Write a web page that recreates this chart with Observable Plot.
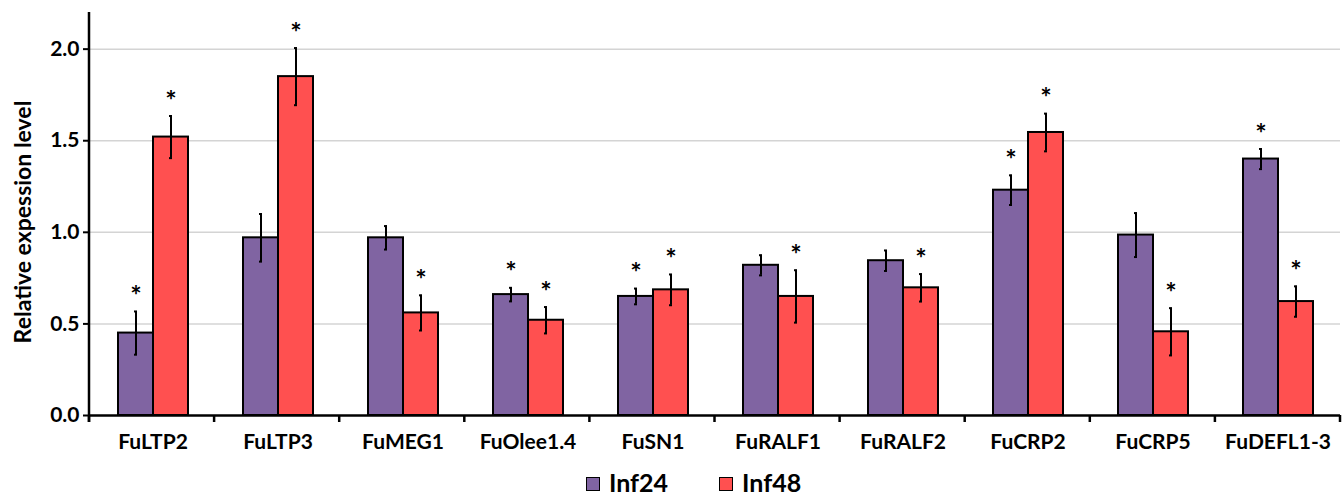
<!DOCTYPE html>
<html><head><meta charset="utf-8">
<script src="https://cdn.jsdelivr.net/npm/d3@7"></script>
<script src="https://cdn.jsdelivr.net/npm/@observablehq/plot@0.6"></script>
<style>
body{margin:0;background:#fff;font-family:Lato,"Open Sans",sans-serif;}
#wrap{position:relative;width:1344px;height:497px;}
#legend{position:absolute;left:586px;top:468px;display:flex;align-items:center;font-weight:bold;font-size:25px;line-height:28px;height:28px;color:#000;}
.sw{display:inline-block;width:12px;height:12px;border:1.5px solid #000;margin-right:9px;margin-top:3px;}
.item{display:flex;align-items:center;margin-right:51px;}
</style></head><body>
<div id="wrap"><div id="chart"></div><div id="legend"></div></div>
<script>
const genes = ["FuLTP2","FuLTP3","FuMEG1","FuOlee1.4","FuSN1","FuRALF1","FuRALF2","FuCRP2","FuCRP5","FuDEFL1-3"];
const series = ["Inf24","Inf48"];
const colors = ["#8064A2","#FF5050"];
const inf24Mean = [0.45,0.97,0.97,0.66,0.65,0.82,0.845,1.23,0.985,1.40];
const inf24Err  = [0.118,0.13,0.064,0.037,0.043,0.055,0.056,0.081,0.12,0.055];
const inf24Sig  = [true,false,false,true,true,false,false,true,false,true];
const inf48Mean = [1.52,1.85,0.56,0.52,0.686,0.65,0.697,1.545,0.457,0.622];
const inf48Err  = [0.115,0.156,0.096,0.072,0.084,0.143,0.075,0.103,0.129,0.083];
const inf48Sig  = [true,true,true,true,true,true,true,true,true,true];
const yTicks = [0,0.5,1.0,1.5,2.0];
const yLabel = "Relative expession level";

const data = [];
genes.forEach((g,i)=>{
  data.push({gene:g, series:series[0], mean:inf24Mean[i], err:inf24Err[i], sig:inf24Sig[i]});
  data.push({gene:g, series:series[1], mean:inf48Mean[i], err:inf48Err[i], sig:inf48Sig[i]});
});
const lo = d=>d.mean-d.err, hi = d=>d.mean+d.err;

const chart = Plot.plot({
  width:1344, height:455,
  marginLeft:89, marginRight:4, marginTop:12, marginBottom:40,
  style:{fontFamily:"Lato, 'Open Sans', sans-serif", fontWeight:"bold", color:"#000", background:"#fff"},
  fx:{domain:genes, padding:0, label:null},
  x:{domain:series, paddingInner:0, paddingOuter:0.75, axis:null},
  y:{domain:[0,2.2]},
  color:{domain:series, range:colors},
  marks:[
    Plot.ruleY(yTicks.slice(1), {stroke:"#d4d4d4", strokeWidth:1.5}),
    Plot.barY(data, {fx:"gene", x:"series", y:"mean", fill:"series", stroke:"#000", strokeWidth:2}),
    Plot.ruleX(data, {fx:"gene", x:"series", y1:lo, y2:hi, stroke:"#000", strokeWidth:2}),
    Plot.tickY(data, {fx:"gene", x:"series", y:lo, insetLeft:16, insetRight:16, stroke:"#000", strokeWidth:2}),
    Plot.tickY(data, {fx:"gene", x:"series", y:hi, insetLeft:16, insetRight:16, stroke:"#000", strokeWidth:2}),
    Plot.text(data.filter(d=>d.sig), {fx:"gene", x:"series", y:hi, text:()=>"*", fontSize:27, fontWeight:"bold", dy:-15, fill:"#000"}),
    Plot.ruleY([0], {stroke:"#000", strokeWidth:2.5}),
    Plot.axisY({ticks:yTicks, tickFormat:d3.format(".1f"), tickSize:7, tickPadding:4, strokeWidth:2, fontSize:21, label:null}),
    Plot.text([yLabel], {fx:()=>genes[0], text:d=>d, frameAnchor:"left", textAnchor:"middle", rotate:-90, dx:-67, dy:8, fontSize:23, fontWeight:"bold", fill:"#000"}),
    Plot.axisFx({anchor:"bottom", tickSize:0, tickPadding:19, fontSize:21, label:null})
  ]
});
document.getElementById("chart").appendChild(chart);

// y axis line and category boundary ticks, positioned through Plot's own scales
const svg = d3.select(chart);
const fx = chart.scale("fx"), y = chart.scale("y");
const r = fx.range, step = (r[1]-r[0])/genes.length;
const y0 = y.apply(0), yTop = y.apply(2.2);
const g = svg.append("g").attr("stroke","#000").attr("stroke-width",2.5);
g.append("line").attr("x1",r[0]).attr("x2",r[0]).attr("y1",yTop).attr("y2",y0+7);
d3.range(genes.length+1).forEach(i=>{
  const x = r[0]+i*step;
  g.append("line").attr("x1",x).attr("x2",x).attr("y1",y0).attr("y2",y0+7);
});

const leg = d3.select("#legend");
series.forEach((s,i)=>{
  const it = leg.append("div").attr("class","item");
  it.append("span").attr("class","sw").style("background",colors[i]);
  it.append("span").text(s);
});
</script>
</body></html>
